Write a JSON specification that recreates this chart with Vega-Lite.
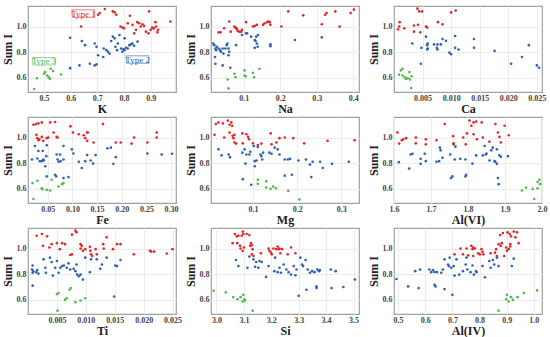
{
"$schema":"https://vega.github.io/schema/vega-lite/v6.json",
"padding":{"left":0,"top":5,"right":0,"bottom":0},
"background":"white",
"spacing":1,
"config":{
 "font":"Liberation Serif",
 "view":{"stroke":"#a0a0a0","strokeWidth":1.2},
 "axis":{"labelFont":"Liberation Serif","titleFont":"Liberation Serif","labelFontWeight":"bold","titleFontWeight":"bold","labelFontSize":8,"titleFontSize":12,"labelColor":"#444","titleColor":"#222","gridColor":"#ececec","domain":false,"ticks":false,"labelPadding":2,"titlePadding":1,"labelOverlap":false,"labelFlush":false,"tickCount":20},
 "axisY":{"titleFontSize":12,"titlePadding":2},
 "text":{"font":"Liberation Serif"}
},
"datasets":{
"A":[{"x":0.639,"y":1.0,"t":1},{"x":0.703,"y":1.092,"t":1},{"x":0.709,"y":1.105,"t":1},{"x":0.728,"y":1.137,"t":1},{"x":0.758,"y":1.118,"t":1},{"x":0.765,"y":1.11,"t":1},{"x":0.771,"y":1.092,"t":1},{"x":0.787,"y":1.0,"t":1},{"x":0.795,"y":0.992,"t":1},{"x":0.8,"y":0.987,"t":1},{"x":0.822,"y":1.084,"t":1},{"x":0.838,"y":0.947,"t":1},{"x":0.845,"y":0.974,"t":1},{"x":0.85,"y":1.034,"t":1},{"x":0.857,"y":1.026,"t":1},{"x":0.863,"y":1.0,"t":1},{"x":0.869,"y":1.018,"t":1},{"x":0.875,"y":1.005,"t":1},{"x":0.882,"y":0.96,"t":1},{"x":0.894,"y":1.118,"t":1},{"x":0.9,"y":0.974,"t":1},{"x":0.906,"y":0.992,"t":1},{"x":0.908,"y":0.987,"t":1},{"x":0.912,"y":0.987,"t":1},{"x":0.918,"y":1.034,"t":1},{"x":0.92,"y":1.0,"t":1},{"x":0.925,"y":0.955,"t":1},{"x":0.928,"y":0.974,"t":1},{"x":0.974,"y":1.039,"t":1},{"x":0.832,"y":1.013,"t":1},{"x":0.814,"y":1.026,"t":1},{"x":0.892,"y":0.947,"t":1},
{"x":0.598,"y":0.913,"t":2},{"x":0.642,"y":0.887,"t":2},{"x":0.654,"y":0.855,"t":2},{"x":0.633,"y":0.697,"t":2},{"x":0.598,"y":0.676,"t":2},{"x":0.672,"y":0.71,"t":2},{"x":0.69,"y":0.697,"t":2},{"x":0.697,"y":0.705,"t":2},{"x":0.69,"y":0.868,"t":2},{"x":0.697,"y":0.842,"t":2},{"x":0.703,"y":0.776,"t":2},{"x":0.722,"y":0.763,"t":2},{"x":0.724,"y":0.829,"t":2},{"x":0.74,"y":0.803,"t":2},{"x":0.746,"y":0.789,"t":2},{"x":0.752,"y":0.887,"t":2},{"x":0.758,"y":0.921,"t":2},{"x":0.765,"y":0.908,"t":2},{"x":0.768,"y":0.842,"t":2},{"x":0.774,"y":0.816,"t":2},{"x":0.777,"y":0.868,"t":2},{"x":0.783,"y":0.934,"t":2},{"x":0.789,"y":0.829,"t":2},{"x":0.794,"y":0.803,"t":2},{"x":0.798,"y":0.824,"t":2},{"x":0.802,"y":0.908,"t":2},{"x":0.808,"y":0.834,"t":2},{"x":0.814,"y":0.829,"t":2},{"x":0.82,"y":0.855,"t":2},{"x":0.826,"y":0.861,"t":2},{"x":0.832,"y":0.868,"t":2},{"x":0.838,"y":0.85,"t":2},{"x":0.851,"y":0.882,"t":2},{"x":0.802,"y":0.816,"t":2},{"x":0.734,"y":0.816,"t":2},
{"x":0.463,"y":0.513,"t":3},{"x":0.473,"y":0.597,"t":3},{"x":0.5,"y":0.632,"t":3},{"x":0.504,"y":0.645,"t":3},{"x":0.512,"y":0.618,"t":3},{"x":0.518,"y":0.605,"t":3},{"x":0.522,"y":0.592,"t":3},{"x":0.525,"y":0.671,"t":3},{"x":0.534,"y":0.653,"t":3},{"x":0.564,"y":0.626,"t":3}],
"B":[{"x":0.031,"y":0.955,"t":1},{"x":0.036,"y":0.955,"t":1},{"x":0.046,"y":0.987,"t":1},{"x":0.06,"y":1.039,"t":1},{"x":0.064,"y":0.96,"t":1},{"x":0.074,"y":1.0,"t":1},{"x":0.077,"y":0.992,"t":1},{"x":0.079,"y":0.987,"t":1},{"x":0.081,"y":0.982,"t":1},{"x":0.083,"y":0.966,"t":1},{"x":0.088,"y":0.96,"t":1},{"x":0.095,"y":0.974,"t":1},{"x":0.106,"y":1.034,"t":1},{"x":0.109,"y":0.947,"t":1},{"x":0.125,"y":1.0,"t":1},{"x":0.13,"y":1.005,"t":1},{"x":0.136,"y":1.013,"t":1},{"x":0.153,"y":1.013,"t":1},{"x":0.157,"y":1.026,"t":1},{"x":0.164,"y":1.034,"t":1},{"x":0.168,"y":1.039,"t":1},{"x":0.171,"y":1.034,"t":1},{"x":0.173,"y":1.013,"t":1},{"x":0.203,"y":1.0,"t":1},{"x":0.222,"y":1.118,"t":1},{"x":0.263,"y":1.087,"t":1},{"x":0.314,"y":1.018,"t":1},{"x":0.323,"y":1.092,"t":1},{"x":0.327,"y":1.105,"t":1},{"x":0.351,"y":1.118,"t":1},{"x":0.363,"y":1.0,"t":1},{"x":0.393,"y":1.105,"t":1},{"x":0.402,"y":1.132,"t":1},{"x":0.093,"y":0.96,"t":1},
{"x":0.016,"y":0.868,"t":2},{"x":0.019,"y":0.855,"t":2},{"x":0.022,"y":0.829,"t":2},{"x":0.024,"y":0.816,"t":2},{"x":0.021,"y":0.763,"t":2},{"x":0.022,"y":0.71,"t":2},{"x":0.026,"y":0.842,"t":2},{"x":0.031,"y":0.829,"t":2},{"x":0.035,"y":0.816,"t":2},{"x":0.037,"y":0.803,"t":2},{"x":0.042,"y":0.829,"t":2},{"x":0.044,"y":0.789,"t":2},{"x":0.049,"y":0.829,"t":2},{"x":0.053,"y":0.855,"t":2},{"x":0.055,"y":0.868,"t":2},{"x":0.058,"y":0.829,"t":2},{"x":0.06,"y":0.803,"t":2},{"x":0.058,"y":0.776,"t":2},{"x":0.063,"y":0.679,"t":2},{"x":0.042,"y":0.697,"t":2},{"x":0.079,"y":0.855,"t":2},{"x":0.095,"y":0.934,"t":2},{"x":0.106,"y":0.947,"t":2},{"x":0.12,"y":0.921,"t":2},{"x":0.13,"y":0.895,"t":2},{"x":0.134,"y":0.921,"t":2},{"x":0.132,"y":0.887,"t":2},{"x":0.136,"y":0.868,"t":2},{"x":0.13,"y":0.834,"t":2},{"x":0.138,"y":0.842,"t":2},{"x":0.173,"y":0.861,"t":2},{"x":0.173,"y":0.847,"t":2},{"x":0.24,"y":0.895,"t":2},{"x":0.314,"y":0.916,"t":2},{"x":0.139,"y":0.934,"t":2},
{"x":0.056,"y":0.587,"t":3},{"x":0.058,"y":0.518,"t":3},{"x":0.074,"y":0.632,"t":3},{"x":0.077,"y":0.605,"t":3},{"x":0.102,"y":0.658,"t":3},{"x":0.102,"y":0.618,"t":3},{"x":0.105,"y":0.613,"t":3},{"x":0.125,"y":0.639,"t":3},{"x":0.128,"y":0.605,"t":3},{"x":0.143,"y":0.671,"t":3}],
"C":[{"x":0.0007,"y":0.979,"t":1},{"x":0.0009,"y":1.0,"t":1},{"x":0.001,"y":1.034,"t":1},{"x":0.0018,"y":0.987,"t":1},{"x":0.0035,"y":1.008,"t":1},{"x":0.0035,"y":0.96,"t":1},{"x":0.0041,"y":1.139,"t":1},{"x":0.0042,"y":1.013,"t":1},{"x":0.0044,"y":1.118,"t":1},{"x":0.0049,"y":1.118,"t":1},{"x":0.0046,"y":0.955,"t":1},{"x":0.0056,"y":1.0,"t":1},{"x":0.0058,"y":0.992,"t":1},{"x":0.0077,"y":1.034,"t":1},{"x":0.0085,"y":1.018,"t":1},{"x":0.01,"y":1.11,"t":1},{"x":0.0108,"y":1.124,"t":1},
{"x":0.0032,"y":0.868,"t":2},{"x":0.0047,"y":0.71,"t":2},{"x":0.0048,"y":0.834,"t":2},{"x":0.0056,"y":0.921,"t":2},{"x":0.0058,"y":0.855,"t":2},{"x":0.0059,"y":0.868,"t":2},{"x":0.0058,"y":0.821,"t":2},{"x":0.0059,"y":0.829,"t":2},{"x":0.007,"y":0.861,"t":2},{"x":0.0075,"y":0.834,"t":2},{"x":0.0076,"y":0.821,"t":2},{"x":0.0076,"y":0.861,"t":2},{"x":0.0082,"y":0.861,"t":2},{"x":0.0085,"y":0.903,"t":2},{"x":0.0091,"y":0.889,"t":2},{"x":0.0097,"y":0.797,"t":2},{"x":0.01,"y":0.784,"t":2},{"x":0.0107,"y":0.926,"t":2},{"x":0.0107,"y":0.834,"t":2},{"x":0.0113,"y":0.821,"t":2},{"x":0.014,"y":0.903,"t":2},{"x":0.014,"y":0.834,"t":2},{"x":0.0176,"y":0.81,"t":2},{"x":0.0205,"y":0.71,"t":2},{"x":0.0224,"y":0.763,"t":2},{"x":0.0236,"y":0.855,"t":2},{"x":0.025,"y":0.697,"t":2},{"x":0.0254,"y":0.679,"t":2},
{"x":0.0009,"y":0.624,"t":3},{"x":0.0012,"y":0.658,"t":3},{"x":0.0015,"y":0.671,"t":3},{"x":0.0015,"y":0.618,"t":3},{"x":0.0019,"y":0.605,"t":3},{"x":0.0021,"y":0.592,"t":3},{"x":0.0024,"y":0.597,"t":3},{"x":0.0027,"y":0.645,"t":3},{"x":0.0028,"y":0.587,"t":3},{"x":0.0031,"y":0.613,"t":3},{"x":0.003,"y":0.521,"t":3}],
"D":[{"x":0.021,"y":1.1,"t":1},{"x":0.026,"y":1.105,"t":1},{"x":0.031,"y":1.11,"t":1},{"x":0.038,"y":1.118,"t":1},{"x":0.027,"y":1.021,"t":1},{"x":0.029,"y":0.995,"t":1},{"x":0.031,"y":0.979,"t":1},{"x":0.033,"y":0.987,"t":1},{"x":0.038,"y":1.005,"t":1},{"x":0.041,"y":0.974,"t":1},{"x":0.048,"y":0.995,"t":1},{"x":0.051,"y":1.0,"t":1},{"x":0.055,"y":1.118,"t":1},{"x":0.062,"y":1.039,"t":1},{"x":0.065,"y":1.121,"t":1},{"x":0.068,"y":1.005,"t":1},{"x":0.07,"y":1.0,"t":1},{"x":0.096,"y":1.087,"t":1},{"x":0.101,"y":1.039,"t":1},{"x":0.113,"y":1.026,"t":1},{"x":0.123,"y":1.018,"t":1},{"x":0.13,"y":1.039,"t":1},{"x":0.131,"y":1.039,"t":1},{"x":0.126,"y":0.995,"t":1},{"x":0.13,"y":0.974,"t":1},{"x":0.143,"y":0.961,"t":1},{"x":0.162,"y":1.105,"t":1},{"x":0.188,"y":0.961,"t":1},{"x":0.198,"y":0.961,"t":1},{"x":0.22,"y":0.953,"t":1},{"x":0.225,"y":1.0,"t":1},{"x":0.252,"y":0.961,"t":1},{"x":0.271,"y":1.039,"t":1},{"x":0.271,"y":1.0,"t":1},
{"x":0.018,"y":0.829,"t":2},{"x":0.024,"y":0.934,"t":2},{"x":0.029,"y":0.837,"t":2},{"x":0.031,"y":0.895,"t":2},{"x":0.034,"y":0.816,"t":2},{"x":0.038,"y":0.816,"t":2},{"x":0.04,"y":0.895,"t":2},{"x":0.041,"y":0.829,"t":2},{"x":0.042,"y":0.821,"t":2},{"x":0.045,"y":0.776,"t":2},{"x":0.047,"y":0.855,"t":2},{"x":0.048,"y":0.939,"t":2},{"x":0.048,"y":0.697,"t":2},{"x":0.065,"y":0.71,"t":2},{"x":0.067,"y":0.697,"t":2},{"x":0.068,"y":0.868,"t":2},{"x":0.07,"y":0.829,"t":2},{"x":0.072,"y":0.811,"t":2},{"x":0.075,"y":0.868,"t":2},{"x":0.076,"y":0.816,"t":2},{"x":0.082,"y":0.934,"t":2},{"x":0.082,"y":0.829,"t":2},{"x":0.082,"y":0.684,"t":2},{"x":0.092,"y":0.692,"t":2},{"x":0.099,"y":0.908,"t":2},{"x":0.102,"y":0.876,"t":2},{"x":0.113,"y":0.811,"t":2},{"x":0.119,"y":0.763,"t":2},{"x":0.126,"y":0.816,"t":2},{"x":0.13,"y":0.863,"t":2},{"x":0.137,"y":0.821,"t":2},{"x":0.142,"y":0.797,"t":2},{"x":0.147,"y":0.863,"t":2},{"x":0.171,"y":0.916,"t":2},{"x":0.178,"y":0.921,"t":2},{"x":0.183,"y":0.795,"t":2},{"x":0.188,"y":0.847,"t":2},{"x":0.252,"y":0.876,"t":2},{"x":0.281,"y":0.868,"t":2},{"x":0.302,"y":0.874,"t":2},
{"x":0.019,"y":0.645,"t":3},{"x":0.021,"y":0.521,"t":3},{"x":0.029,"y":0.663,"t":3},{"x":0.038,"y":0.605,"t":3},{"x":0.039,"y":0.597,"t":3},{"x":0.048,"y":0.592,"t":3},{"x":0.055,"y":0.587,"t":3},{"x":0.058,"y":0.671,"t":3},{"x":0.072,"y":0.618,"t":3},{"x":0.079,"y":0.637,"t":3},{"x":0.082,"y":0.645,"t":3}],
"E":[{"x":0.013,"y":1.021,"t":1},{"x":0.016,"y":1.105,"t":1},{"x":0.022,"y":1.118,"t":1},{"x":0.032,"y":1.11,"t":1},{"x":0.035,"y":1.0,"t":1},{"x":0.043,"y":1.132,"t":1},{"x":0.047,"y":1.1,"t":1},{"x":0.051,"y":1.118,"t":1},{"x":0.053,"y":1.092,"t":1},{"x":0.047,"y":1.039,"t":1},{"x":0.054,"y":1.013,"t":1},{"x":0.056,"y":0.995,"t":1},{"x":0.058,"y":1.021,"t":1},{"x":0.058,"y":0.961,"t":1},{"x":0.062,"y":0.953,"t":1},{"x":0.076,"y":1.032,"t":1},{"x":0.077,"y":0.955,"t":1},{"x":0.085,"y":1.026,"t":1},{"x":0.089,"y":1.005,"t":1},{"x":0.091,"y":0.987,"t":1},{"x":0.1,"y":0.955,"t":1},{"x":0.111,"y":0.942,"t":1},{"x":0.119,"y":0.953,"t":1},{"x":0.14,"y":1.032,"t":1},{"x":0.142,"y":0.947,"t":1},{"x":0.153,"y":0.961,"t":1},{"x":0.16,"y":0.995,"t":1},{"x":0.172,"y":1.0,"t":1},{"x":0.191,"y":0.995,"t":1},{"x":0.216,"y":0.955,"t":1},{"x":0.269,"y":0.974,"t":1},{"x":0.33,"y":0.979,"t":1},
{"x":0.022,"y":0.908,"t":2},{"x":0.029,"y":0.861,"t":2},{"x":0.045,"y":0.868,"t":2},{"x":0.048,"y":0.847,"t":2},{"x":0.076,"y":0.882,"t":2},{"x":0.077,"y":0.676,"t":2},{"x":0.081,"y":0.908,"t":2},{"x":0.083,"y":0.797,"t":2},{"x":0.085,"y":0.868,"t":2},{"x":0.092,"y":0.868,"t":2},{"x":0.094,"y":0.889,"t":2},{"x":0.096,"y":0.632,"t":2},{"x":0.102,"y":0.934,"t":2},{"x":0.104,"y":0.816,"t":2},{"x":0.108,"y":0.821,"t":2},{"x":0.104,"y":0.776,"t":2},{"x":0.111,"y":0.926,"t":2},{"x":0.117,"y":0.868,"t":2},{"x":0.119,"y":0.855,"t":2},{"x":0.121,"y":0.829,"t":2},{"x":0.123,"y":0.882,"t":2},{"x":0.137,"y":0.882,"t":2},{"x":0.142,"y":0.874,"t":2},{"x":0.149,"y":0.921,"t":2},{"x":0.156,"y":0.908,"t":2},{"x":0.16,"y":0.868,"t":2},{"x":0.172,"y":0.829,"t":2},{"x":0.179,"y":0.829,"t":2},{"x":0.184,"y":0.834,"t":2},{"x":0.172,"y":0.703,"t":2},{"x":0.188,"y":0.71,"t":2},{"x":0.203,"y":0.821,"t":2},{"x":0.22,"y":0.829,"t":2},{"x":0.229,"y":0.789,"t":2},{"x":0.232,"y":0.692,"t":2},{"x":0.235,"y":0.811,"t":2},{"x":0.252,"y":0.811,"t":2},{"x":0.258,"y":0.763,"t":2},{"x":0.279,"y":0.795,"t":2},{"x":0.317,"y":0.811,"t":2},
{"x":0.111,"y":0.671,"t":3},{"x":0.111,"y":0.639,"t":3},{"x":0.13,"y":0.658,"t":3},{"x":0.13,"y":0.61,"t":3},{"x":0.14,"y":0.6,"t":3},{"x":0.146,"y":0.618,"t":3},{"x":0.152,"y":0.605,"t":3},{"x":0.18,"y":0.584,"t":3},{"x":0.205,"y":0.518,"t":3}],
"F":[{"x":1.609,"y":1.039,"t":1},{"x":1.614,"y":0.953,"t":1},{"x":1.621,"y":0.979,"t":1},{"x":1.625,"y":0.987,"t":1},{"x":1.633,"y":0.995,"t":1},{"x":1.659,"y":1.0,"t":1},{"x":1.659,"y":0.955,"t":1},{"x":1.686,"y":0.987,"t":1},{"x":1.686,"y":0.947,"t":1},{"x":1.715,"y":0.979,"t":1},{"x":1.737,"y":1.105,"t":1},{"x":1.76,"y":1.011,"t":1},{"x":1.761,"y":0.955,"t":1},{"x":1.761,"y":0.947,"t":1},{"x":1.787,"y":1.0,"t":1},{"x":1.794,"y":0.947,"t":1},{"x":1.797,"y":1.032,"t":1},{"x":1.804,"y":1.132,"t":1},{"x":1.809,"y":1.092,"t":1},{"x":1.815,"y":1.118,"t":1},{"x":1.815,"y":1.026,"t":1},{"x":1.822,"y":1.124,"t":1},{"x":1.824,"y":0.987,"t":1},{"x":1.837,"y":1.118,"t":1},{"x":1.84,"y":1.0,"t":1},{"x":1.858,"y":0.968,"t":1},{"x":1.874,"y":1.105,"t":1},{"x":1.881,"y":1.039,"t":1},{"x":1.885,"y":1.005,"t":1},{"x":1.889,"y":0.961,"t":1},{"x":1.899,"y":1.092,"t":1},{"x":1.91,"y":1.018,"t":1},
{"x":1.613,"y":0.808,"t":2},{"x":1.641,"y":0.758,"t":2},{"x":1.645,"y":0.868,"t":2},{"x":1.65,"y":0.874,"t":2},{"x":1.672,"y":0.834,"t":2},{"x":1.672,"y":0.795,"t":2},{"x":1.683,"y":0.874,"t":2},{"x":1.686,"y":0.816,"t":2},{"x":1.715,"y":0.811,"t":2},{"x":1.722,"y":0.816,"t":2},{"x":1.724,"y":0.921,"t":2},{"x":1.726,"y":0.9,"t":2},{"x":1.731,"y":0.842,"t":2},{"x":1.752,"y":0.868,"t":2},{"x":1.754,"y":0.684,"t":2},{"x":1.758,"y":0.697,"t":2},{"x":1.764,"y":0.829,"t":2},{"x":1.766,"y":0.929,"t":2},{"x":1.779,"y":0.834,"t":2},{"x":1.793,"y":0.829,"t":2},{"x":1.793,"y":0.697,"t":2},{"x":1.795,"y":0.71,"t":2},{"x":1.812,"y":0.797,"t":2},{"x":1.822,"y":0.861,"t":2},{"x":1.84,"y":0.861,"t":2},{"x":1.845,"y":0.934,"t":2},{"x":1.848,"y":0.868,"t":2},{"x":1.85,"y":0.876,"t":2},{"x":1.858,"y":0.821,"t":2},{"x":1.863,"y":0.9,"t":2},{"x":1.867,"y":0.921,"t":2},{"x":1.872,"y":0.816,"t":2},{"x":1.874,"y":0.811,"t":2},{"x":1.878,"y":0.908,"t":2},{"x":1.878,"y":0.795,"t":2},{"x":1.881,"y":0.684,"t":2},{"x":1.883,"y":0.637,"t":2},{"x":1.885,"y":0.861,"t":2},{"x":1.889,"y":0.85,"t":2},{"x":1.908,"y":0.855,"t":2},
{"x":1.946,"y":0.587,"t":3},{"x":1.957,"y":0.61,"t":3},{"x":1.975,"y":0.6,"t":3},{"x":1.979,"y":0.521,"t":3},{"x":1.988,"y":0.605,"t":3},{"x":1.988,"y":0.653,"t":3},{"x":1.993,"y":0.671,"t":3},{"x":1.995,"y":0.637,"t":3}],
"G":[{"x":0.0015,"y":1.1,"t":1},{"x":0.0024,"y":1.113,"t":1},{"x":0.0026,"y":1.021,"t":1},{"x":0.0033,"y":1.095,"t":1},{"x":0.0037,"y":1.008,"t":1},{"x":0.0041,"y":1.034,"t":1},{"x":0.005,"y":1.042,"t":1},{"x":0.0055,"y":0.995,"t":1},{"x":0.0059,"y":1.042,"t":1},{"x":0.0064,"y":1.034,"t":1},{"x":0.0073,"y":0.95,"t":1},{"x":0.0076,"y":0.955,"t":1},{"x":0.0076,"y":1.108,"t":1},{"x":0.0082,"y":1.139,"t":1},{"x":0.0084,"y":1.126,"t":1},{"x":0.0091,"y":1.034,"t":1},{"x":0.0091,"y":1.0,"t":1},{"x":0.0093,"y":1.021,"t":1},{"x":0.0095,"y":0.982,"t":1},{"x":0.0099,"y":0.995,"t":1},{"x":0.0107,"y":1.013,"t":1},{"x":0.0108,"y":0.982,"t":1},{"x":0.0109,"y":0.955,"t":1},{"x":0.0111,"y":0.942,"t":1},{"x":0.0117,"y":0.995,"t":1},{"x":0.0119,"y":0.955,"t":1},{"x":0.013,"y":1.034,"t":1},{"x":0.0131,"y":1.0,"t":1},{"x":0.0136,"y":1.087,"t":1},{"x":0.0147,"y":0.995,"t":1},{"x":0.0154,"y":1.034,"t":1},{"x":0.016,"y":1.034,"t":1},{"x":0.0183,"y":0.955,"t":1},{"x":0.0211,"y":0.982,"t":1},{"x":0.0213,"y":0.976,"t":1},{"x":0.0218,"y":0.976,"t":1},{"x":0.024,"y":0.961,"t":1},{"x":0.025,"y":0.995,"t":1},
{"x":0.0007,"y":0.837,"t":2},{"x":0.0008,"y":0.868,"t":2},{"x":0.0008,"y":0.811,"t":2},{"x":0.0009,"y":0.824,"t":2},{"x":0.0014,"y":0.816,"t":2},{"x":0.0016,"y":0.832,"t":2},{"x":0.0018,"y":0.805,"t":2},{"x":0.0008,"y":0.711,"t":2},{"x":0.0027,"y":0.916,"t":2},{"x":0.003,"y":0.85,"t":2},{"x":0.0031,"y":0.811,"t":2},{"x":0.0038,"y":0.929,"t":2},{"x":0.0041,"y":0.895,"t":2},{"x":0.0043,"y":0.789,"t":2},{"x":0.0047,"y":0.85,"t":2},{"x":0.005,"y":0.903,"t":2},{"x":0.0053,"y":0.811,"t":2},{"x":0.0056,"y":0.85,"t":2},{"x":0.0059,"y":0.863,"t":2},{"x":0.0062,"y":0.868,"t":2},{"x":0.0067,"y":0.85,"t":2},{"x":0.007,"y":0.884,"t":2},{"x":0.0073,"y":0.837,"t":2},{"x":0.0079,"y":0.842,"t":2},{"x":0.0082,"y":0.824,"t":2},{"x":0.0084,"y":0.876,"t":2},{"x":0.0085,"y":0.797,"t":2},{"x":0.0088,"y":0.784,"t":2},{"x":0.0091,"y":0.797,"t":2},{"x":0.0095,"y":0.758,"t":2},{"x":0.0099,"y":0.929,"t":2},{"x":0.0107,"y":0.816,"t":2},{"x":0.0109,"y":0.916,"t":2},{"x":0.0119,"y":0.916,"t":2},{"x":0.0125,"y":0.842,"t":2},{"x":0.0128,"y":0.876,"t":2},{"x":0.0136,"y":0.929,"t":2},{"x":0.0149,"y":0.626,"t":2},{"x":0.0151,"y":0.868,"t":2},{"x":0.0154,"y":0.863,"t":2},{"x":0.016,"y":0.911,"t":2},
{"x":0.005,"y":0.645,"t":3},{"x":0.0053,"y":0.653,"t":3},{"x":0.0051,"y":0.516,"t":3},{"x":0.0064,"y":0.6,"t":3},{"x":0.0067,"y":0.613,"t":3},{"x":0.0072,"y":0.679,"t":3},{"x":0.0074,"y":0.692,"t":3},{"x":0.0082,"y":0.582,"t":3},{"x":0.0091,"y":0.595,"t":3},{"x":0.0099,"y":0.613,"t":3}],
"H":[{"x":3.059,"y":1.042,"t":1},{"x":3.067,"y":1.113,"t":1},{"x":3.074,"y":1.095,"t":1},{"x":3.076,"y":1.042,"t":1},{"x":3.08,"y":1.1,"t":1},{"x":3.086,"y":1.021,"t":1},{"x":3.088,"y":1.0,"t":1},{"x":3.092,"y":1.1,"t":1},{"x":3.096,"y":1.132,"t":1},{"x":3.098,"y":1.113,"t":1},{"x":3.096,"y":0.982,"t":1},{"x":3.1,"y":1.008,"t":1},{"x":3.11,"y":1.113,"t":1},{"x":3.12,"y":1.105,"t":1},{"x":3.123,"y":1.021,"t":1},{"x":3.126,"y":1.042,"t":1},{"x":3.129,"y":1.026,"t":1},{"x":3.132,"y":0.995,"t":1},{"x":3.129,"y":0.955,"t":1},{"x":3.135,"y":0.942,"t":1},{"x":3.162,"y":0.963,"t":1},{"x":3.19,"y":1.0,"t":1},{"x":3.193,"y":0.982,"t":1},{"x":3.199,"y":0.968,"t":1},{"x":3.202,"y":0.955,"t":1},{"x":3.208,"y":1.0,"t":1},{"x":3.218,"y":0.995,"t":1},{"x":3.223,"y":1.016,"t":1},{"x":3.227,"y":0.995,"t":1},{"x":3.23,"y":1.0,"t":1},{"x":3.233,"y":0.963,"t":1},{"x":3.239,"y":0.995,"t":1},{"x":3.26,"y":0.955,"t":1},{"x":3.272,"y":1.008,"t":1},{"x":3.288,"y":0.963,"t":1},
{"x":3.071,"y":0.911,"t":2},{"x":3.08,"y":0.863,"t":2},{"x":3.113,"y":0.85,"t":2},{"x":3.12,"y":0.937,"t":2},{"x":3.135,"y":0.916,"t":2},{"x":3.141,"y":0.858,"t":2},{"x":3.145,"y":0.895,"t":2},{"x":3.153,"y":0.85,"t":2},{"x":3.157,"y":0.903,"t":2},{"x":3.165,"y":0.895,"t":2},{"x":3.181,"y":0.779,"t":2},{"x":3.19,"y":0.863,"t":2},{"x":3.211,"y":0.824,"t":2},{"x":3.214,"y":0.929,"t":2},{"x":3.223,"y":0.816,"t":2},{"x":3.23,"y":0.85,"t":2},{"x":3.235,"y":0.811,"t":2},{"x":3.245,"y":0.876,"t":2},{"x":3.255,"y":0.837,"t":2},{"x":3.263,"y":0.816,"t":2},{"x":3.272,"y":0.797,"t":2},{"x":3.282,"y":0.863,"t":2},{"x":3.288,"y":0.792,"t":2},{"x":3.292,"y":0.837,"t":2},{"x":3.3,"y":0.632,"t":2},{"x":3.306,"y":0.929,"t":2},{"x":3.312,"y":0.876,"t":2},{"x":3.316,"y":0.863,"t":2},{"x":3.325,"y":0.911,"t":2},{"x":3.328,"y":0.679,"t":2},{"x":3.333,"y":0.837,"t":2},{"x":3.341,"y":0.811,"t":2},{"x":3.349,"y":0.824,"t":2},{"x":3.358,"y":0.816,"t":2},{"x":3.365,"y":0.705,"t":2},{"x":3.365,"y":0.692,"t":2},{"x":3.368,"y":0.837,"t":2},{"x":3.374,"y":0.824,"t":2},{"x":3.377,"y":0.832,"t":2},{"x":3.417,"y":0.837,"t":2},{"x":3.42,"y":0.692,"t":2},{"x":3.435,"y":0.824,"t":2},{"x":3.463,"y":0.7,"t":2},{"x":3.505,"y":0.758,"t":2},
{"x":2.99,"y":0.671,"t":3},{"x":3.034,"y":0.658,"t":3},{"x":3.061,"y":0.621,"t":3},{"x":3.077,"y":0.605,"t":3},{"x":3.088,"y":0.621,"t":3},{"x":3.096,"y":0.587,"t":3},{"x":3.098,"y":0.639,"t":3},{"x":3.102,"y":0.605,"t":3},{"x":3.104,"y":0.595,"t":3},{"x":3.132,"y":0.516,"t":3}],
"I":[{"x":0.708,"y":0.955,"t":1},{"x":0.73,"y":1.0,"t":1},{"x":0.739,"y":0.955,"t":1},{"x":0.752,"y":1.0,"t":1},{"x":0.758,"y":0.947,"t":1},{"x":0.77,"y":1.021,"t":1},{"x":0.774,"y":0.995,"t":1},{"x":0.777,"y":1.008,"t":1},{"x":0.777,"y":0.942,"t":1},{"x":0.783,"y":1.0,"t":1},{"x":0.795,"y":0.963,"t":1},{"x":0.801,"y":0.955,"t":1},{"x":0.807,"y":0.995,"t":1},{"x":0.811,"y":0.974,"t":1},{"x":0.814,"y":0.955,"t":1},{"x":0.841,"y":0.963,"t":1},{"x":0.857,"y":0.968,"t":1},{"x":0.861,"y":0.995,"t":1},{"x":0.864,"y":0.942,"t":1},{"x":0.87,"y":1.034,"t":1},{"x":0.876,"y":1.105,"t":1},{"x":0.878,"y":1.021,"t":1},{"x":0.882,"y":1.042,"t":1},{"x":0.886,"y":1.121,"t":1},{"x":0.891,"y":0.942,"t":1},{"x":0.898,"y":1.008,"t":1},{"x":0.901,"y":0.982,"t":1},{"x":0.903,"y":1.126,"t":1},{"x":0.911,"y":1.113,"t":1},{"x":0.907,"y":0.995,"t":1},{"x":0.913,"y":1.016,"t":1},{"x":0.916,"y":1.095,"t":1},{"x":0.926,"y":1.132,"t":1},{"x":0.932,"y":1.087,"t":1},{"x":0.938,"y":1.126,"t":1},{"x":0.944,"y":1.042,"t":1},{"x":0.913,"y":1.034,"t":1},
{"x":0.494,"y":0.763,"t":2},{"x":0.537,"y":0.705,"t":2},{"x":0.563,"y":0.824,"t":2},{"x":0.581,"y":0.837,"t":2},{"x":0.576,"y":0.692,"t":2},{"x":0.615,"y":0.837,"t":2},{"x":0.622,"y":0.816,"t":2},{"x":0.628,"y":0.832,"t":2},{"x":0.634,"y":0.818,"t":2},{"x":0.634,"y":0.718,"t":2},{"x":0.638,"y":0.705,"t":2},{"x":0.643,"y":0.816,"t":2},{"x":0.659,"y":0.811,"t":2},{"x":0.665,"y":0.837,"t":2},{"x":0.671,"y":0.684,"t":2},{"x":0.671,"y":0.916,"t":2},{"x":0.684,"y":0.876,"t":2},{"x":0.687,"y":0.863,"t":2},{"x":0.69,"y":0.929,"t":2},{"x":0.696,"y":0.85,"t":2},{"x":0.7,"y":0.639,"t":2},{"x":0.705,"y":0.863,"t":2},{"x":0.708,"y":0.789,"t":2},{"x":0.715,"y":0.916,"t":2},{"x":0.725,"y":0.797,"t":2},{"x":0.739,"y":0.824,"t":2},{"x":0.749,"y":0.876,"t":2},{"x":0.752,"y":0.929,"t":2},{"x":0.755,"y":0.837,"t":2},{"x":0.767,"y":0.816,"t":2},{"x":0.774,"y":0.868,"t":2},{"x":0.779,"y":0.797,"t":2},{"x":0.787,"y":0.824,"t":2},{"x":0.789,"y":0.816,"t":2},{"x":0.811,"y":0.863,"t":2},{"x":0.82,"y":0.776,"t":2},{"x":0.836,"y":0.903,"t":2},{"x":0.841,"y":0.85,"t":2},{"x":0.849,"y":0.911,"t":2},{"x":0.854,"y":0.876,"t":2},{"x":0.864,"y":0.929,"t":2},{"x":0.87,"y":0.863,"t":2},{"x":0.919,"y":0.863,"t":2},{"x":0.926,"y":0.921,"t":2},
{"x":0.87,"y":0.516,"t":3},{"x":0.898,"y":0.605,"t":3},{"x":0.901,"y":0.639,"t":3},{"x":0.907,"y":0.587,"t":3},{"x":0.916,"y":0.621,"t":3},{"x":0.923,"y":0.6,"t":3},{"x":0.94,"y":0.621,"t":3},{"x":0.963,"y":0.653,"t":3},{"x":1.012,"y":0.674,"t":3}],
"labels":[{"label":"Type 1","x":0.648,"y":1.1,"x1":0.606,"x2":0.69,"y1":1.072,"y2":1.13,"t":1},{"label":"Type 2","x":0.851,"y":0.743,"x1":0.809,"x2":0.893,"y1":0.714,"y2":0.772,"t":2},{"label":"Type 3","x":0.5,"y":0.73,"x1":0.458,"x2":0.542,"y1":0.701,"y2":0.759,"t":3}]
},
"vconcat":[
{"spacing":35,"bounds":"flush","hconcat":[
{"width":148,"height":86,"layer":[
 {"data":{"name":"A"},"mark":{"type":"circle","size":7,"opacity":1},"encoding":{"x":{"field":"x","type":"quantitative","scale":{"domain":[0.44,0.995],"nice":false,"zero":false},"axis":{"title":"K","values":[0.5,0.6,0.7,0.8,0.9],"format":".1f","tickCount":20}},"y":{"field":"y","type":"quantitative","scale":{"domain":[0.49,1.16],"nice":false,"zero":false},"axis":{"title":"Sum I","values":[0.6,0.8,1.0],"format":".1f","tickCount":20}},"color":{"field":"t","type":"nominal","scale":{"domain":[1,2,3],"range":["#e3262b","#2d62b3","#53b94f"]},"legend":null}}},
 {"data":{"name":"labels"},"mark":{"type":"rect","fill":"white","strokeWidth":0.6},"encoding":{"x":{"field":"x1","type":"quantitative"},"x2":{"field":"x2"},"y":{"field":"y1","type":"quantitative"},"y2":{"field":"y2"},"stroke":{"field":"t","type":"nominal","scale":{"domain":[1,2,3],"range":["#e3262b","#2d62b3","#53b94f"]},"legend":null}}},
 {"data":{"name":"labels"},"mark":{"type":"text","fontSize":9,"font":"Liberation Serif"},"encoding":{"x":{"field":"x","type":"quantitative"},"y":{"field":"y","type":"quantitative"},"text":{"field":"label"},"color":{"field":"t","type":"nominal","legend":null}}},
 {"mark":{"type":"text","text":"A.","align":"left","baseline":"top","dx":3,"dy":3,"fontSize":6,"fontWeight":"bold","color":"#333","font":"Liberation Serif"},"encoding":{"x":{"datum":0.44},"y":{"datum":1.16}}}
]},
{"width":148,"height":86,"layer":[
 {"data":{"name":"B"},"mark":{"type":"circle","size":7,"opacity":1},"encoding":{"x":{"field":"x","type":"quantitative","scale":{"domain":[0.01,0.416],"nice":false,"zero":false},"axis":{"title":"Na","values":[0.1,0.2,0.3,0.4],"format":".1f","tickCount":20}},"y":{"field":"y","type":"quantitative","scale":{"domain":[0.49,1.16],"nice":false,"zero":false},"axis":{"title":"Sum I","values":[0.6,0.8,1.0],"format":".1f","tickCount":20}},"color":{"field":"t","type":"nominal","scale":{"domain":[1,2,3],"range":["#e3262b","#2d62b3","#53b94f"]},"legend":null}}},
 {"mark":{"type":"text","text":"B.","align":"left","baseline":"top","dx":3,"dy":3,"fontSize":6,"fontWeight":"bold","color":"#333","font":"Liberation Serif"},"encoding":{"x":{"datum":0.01},"y":{"datum":1.16}}}
]},
{"width":148,"height":86,"layer":[
 {"data":{"name":"C"},"mark":{"type":"circle","size":7,"opacity":1},"encoding":{"x":{"field":"x","type":"quantitative","scale":{"domain":[0,0.0259],"nice":false,"zero":false},"axis":{"title":"Ca","values":[0.005,0.01,0.015,0.02,0.025],"format":".3f","tickCount":20}},"y":{"field":"y","type":"quantitative","scale":{"domain":[0.49,1.16],"nice":false,"zero":false},"axis":{"title":"Sum I","values":[0.6,0.8,1.0],"format":".1f","tickCount":20}},"color":{"field":"t","type":"nominal","scale":{"domain":[1,2,3],"range":["#e3262b","#2d62b3","#53b94f"]},"legend":null}}},
 {"mark":{"type":"text","text":"C.","align":"left","baseline":"top","dx":3,"dy":3,"fontSize":6,"fontWeight":"bold","color":"#333","font":"Liberation Serif"},"encoding":{"x":{"datum":0},"y":{"datum":1.16}}}
]}
]},
{"spacing":35,"bounds":"flush","hconcat":[
{"width":148,"height":86,"layer":[
 {"data":{"name":"D"},"mark":{"type":"circle","size":7,"opacity":1},"encoding":{"x":{"field":"x","type":"quantitative","scale":{"domain":[0.01,0.31],"nice":false,"zero":false},"axis":{"title":"Fe","values":[0.05,0.1,0.15,0.2,0.25,0.3],"format":".2f","tickCount":20}},"y":{"field":"y","type":"quantitative","scale":{"domain":[0.49,1.16],"nice":false,"zero":false},"axis":{"title":"Sum I","values":[0.6,0.8,1.0],"format":".1f","tickCount":20}},"color":{"field":"t","type":"nominal","scale":{"domain":[1,2,3],"range":["#e3262b","#2d62b3","#53b94f"]},"legend":null}}},
 {"mark":{"type":"text","text":"D.","align":"left","baseline":"top","dx":3,"dy":3,"fontSize":6,"fontWeight":"bold","color":"#333","font":"Liberation Serif"},"encoding":{"x":{"datum":0.01},"y":{"datum":1.16}}}
]},
{"width":148,"height":86,"layer":[
 {"data":{"name":"E"},"mark":{"type":"circle","size":7,"opacity":1},"encoding":{"x":{"field":"x","type":"quantitative","scale":{"domain":[0.005,0.34],"nice":false,"zero":false},"axis":{"title":"Mg","values":[0.1,0.2,0.3],"format":".1f","tickCount":20}},"y":{"field":"y","type":"quantitative","scale":{"domain":[0.49,1.16],"nice":false,"zero":false},"axis":{"title":"Sum I","values":[0.6,0.8,1.0],"format":".1f","tickCount":20}},"color":{"field":"t","type":"nominal","scale":{"domain":[1,2,3],"range":["#e3262b","#2d62b3","#53b94f"]},"legend":null}}},
 {"mark":{"type":"text","text":"E.","align":"left","baseline":"top","dx":3,"dy":3,"fontSize":6,"fontWeight":"bold","color":"#333","font":"Liberation Serif"},"encoding":{"x":{"datum":0.005},"y":{"datum":1.16}}}
]},
{"width":148,"height":86,"layer":[
 {"data":{"name":"F"},"mark":{"type":"circle","size":7,"opacity":1},"encoding":{"x":{"field":"x","type":"quantitative","scale":{"domain":[1.6,2.0],"nice":false,"zero":false},"axis":{"title":"Al(VI)","values":[1.6,1.7,1.8,1.9,2.0],"format":".1f","tickCount":20}},"y":{"field":"y","type":"quantitative","scale":{"domain":[0.49,1.16],"nice":false,"zero":false},"axis":{"title":"Sum I","values":[0.6,0.8,1.0],"format":".1f","tickCount":20}},"color":{"field":"t","type":"nominal","scale":{"domain":[1,2,3],"range":["#e3262b","#2d62b3","#53b94f"]},"legend":null}}},
 {"mark":{"type":"text","text":"F.","align":"left","baseline":"top","dx":3,"dy":3,"fontSize":6,"fontWeight":"bold","color":"#333","font":"Liberation Serif"},"encoding":{"x":{"datum":1.6},"y":{"datum":1.16}}}
]}
]},
{"spacing":35,"bounds":"flush","hconcat":[
{"width":148,"height":86,"layer":[
 {"data":{"name":"G"},"mark":{"type":"circle","size":7,"opacity":1},"encoding":{"x":{"field":"x","type":"quantitative","scale":{"domain":[0,0.0256],"nice":false,"zero":false},"axis":{"title":"Ti","values":[0.005,0.01,0.015,0.02,0.025],"format":".3f","tickCount":20}},"y":{"field":"y","type":"quantitative","scale":{"domain":[0.49,1.16],"nice":false,"zero":false},"axis":{"title":"Sum I","values":[0.6,0.8,1.0],"format":".1f","tickCount":20}},"color":{"field":"t","type":"nominal","scale":{"domain":[1,2,3],"range":["#e3262b","#2d62b3","#53b94f"]},"legend":null}}},
 {"mark":{"type":"text","text":"G.","align":"left","baseline":"top","dx":3,"dy":3,"fontSize":6,"fontWeight":"bold","color":"#333","font":"Liberation Serif"},"encoding":{"x":{"datum":0},"y":{"datum":1.16}}}
]},
{"width":148,"height":86,"layer":[
 {"data":{"name":"H"},"mark":{"type":"circle","size":7,"opacity":1},"encoding":{"x":{"field":"x","type":"quantitative","scale":{"domain":[2.98,3.52],"nice":false,"zero":false},"axis":{"title":"Si","values":[3.0,3.1,3.2,3.3,3.4,3.5],"format":".1f","tickCount":20}},"y":{"field":"y","type":"quantitative","scale":{"domain":[0.49,1.16],"nice":false,"zero":false},"axis":{"title":"Sum I","values":[0.6,0.8,1.0],"format":".1f","tickCount":20}},"color":{"field":"t","type":"nominal","scale":{"domain":[1,2,3],"range":["#e3262b","#2d62b3","#53b94f"]},"legend":null}}},
 {"mark":{"type":"text","text":"H.","align":"left","baseline":"top","dx":3,"dy":3,"fontSize":6,"fontWeight":"bold","color":"#333","font":"Liberation Serif"},"encoding":{"x":{"datum":2.98},"y":{"datum":1.16}}}
]},
{"width":148,"height":86,"layer":[
 {"data":{"name":"I"},"mark":{"type":"circle","size":7,"opacity":1},"encoding":{"x":{"field":"x","type":"quantitative","scale":{"domain":[0.485,1.03],"nice":false,"zero":false},"axis":{"title":"Al(IV)","values":[0.5,0.6,0.7,0.8,0.9,1.0],"format":".1f","tickCount":20}},"y":{"field":"y","type":"quantitative","scale":{"domain":[0.49,1.16],"nice":false,"zero":false},"axis":{"title":"Sum I","values":[0.6,0.8,1.0],"format":".1f","tickCount":20}},"color":{"field":"t","type":"nominal","scale":{"domain":[1,2,3],"range":["#e3262b","#2d62b3","#53b94f"]},"legend":null}}},
 {"mark":{"type":"text","text":"I.","align":"left","baseline":"top","dx":3,"dy":3,"fontSize":6,"fontWeight":"bold","color":"#333","font":"Liberation Serif"},"encoding":{"x":{"datum":0.485},"y":{"datum":1.16}}}
]}
]}
]
}
